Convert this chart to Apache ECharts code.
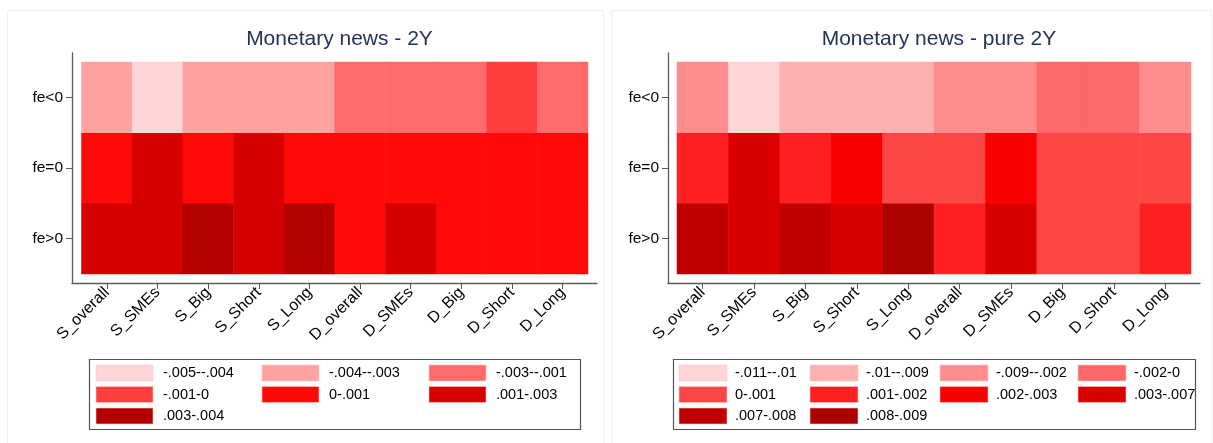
<!DOCTYPE html>
<html>
<head>
<meta charset="utf-8">
<script src="https://cdn.jsdelivr.net/npm/echarts@6/dist/echarts.min.js"></script>
<style>
  html, body { margin: 0; padding: 0; background: #fff; }
  #chart { width: 1213px; height: 443px; }
</style>
</head>
<body>
<div id="chart"></div>
<script>
// Categories (columns) and forecast-error rows
const categories = ['S_overall', 'S_SMEs', 'S_Big', 'S_Short', 'S_Long', 'D_overall', 'D_SMEs', 'D_Big', 'D_Short', 'D_Long'];
const rowLabels = ['fe<0', 'fe=0', 'fe>0'];

// Monetary news - 2Y: one array per row
const news2Y_feNeg  = [-0.0035, -0.0045, -0.0035, -0.0035, -0.0035, -0.002, -0.002, -0.002, -0.0005, -0.002];
const news2Y_feZero = [0.0005, 0.002, 0.0005, 0.002, 0.0005, 0.0005, 0.0005, 0.0005, 0.0005, 0.0005];
const news2Y_fePos  = [0.002, 0.002, 0.0035, 0.002, 0.0035, 0.0005, 0.002, 0.0005, 0.0005, 0.0005];

// Monetary news - pure 2Y
const pure2Y_feNeg  = [-0.005, -0.0105, -0.0095, -0.0095, -0.0095, -0.005, -0.005, -0.001, -0.001, -0.005];
const pure2Y_feZero = [0.0015, 0.005, 0.0015, 0.0025, 0.0005, 0.0005, 0.0025, 0.0005, 0.0005, 0.0005];
const pure2Y_fePos  = [0.0075, 0.005, 0.0075, 0.005, 0.0085, 0.0015, 0.005, 0.0005, 0.0005, 0.0015];

// Colour bins (edges, labels, colours)
const bins2Y_edges  = [-0.005, -0.004, -0.003, -0.001, 0, 0.001, 0.003, 0.004];
const bins2Y_labels = ['-.005--.004', '-.004--.003', '-.003--.001', '-.001-0', '0-.001', '.001-.003', '.003-.004'];
const bins2Y_colors = ['#ffd5d5', '#ffa2a2', '#ff6b6b', '#ff3e3e', '#ff0909', '#d60000', '#b50000'];

const binsPure_edges  = [-0.011, -0.01, -0.009, -0.002, 0, 0.001, 0.002, 0.003, 0.007, 0.008, 0.009];
const binsPure_labels = ['-.011--.01', '-.01--.009', '-.009--.002', '-.002-0', '0-.001', '.001-.002', '.002-.003', '.003-.007', '.007-.008', '.008-.009'];
const binsPure_colors = ['#ffd5d5', '#ffb0b0', '#ff8d8d', '#ff6868', '#ff4646', '#ff2121', '#fc0000', '#db0000', '#c00000', '#ad0000'];

const FONT = '"Liberation Sans", Arial, sans-serif';
const AXIS_COLOR = '#5a5a5a';

function heatData(neg, zero, pos) {
  const out = [];
  const rows = [pos, zero, neg]; // y index 0 = bottom row
  rows.forEach((arr, yi) => arr.forEach((v, xi) => out.push([xi, yi, v])));
  return out;
}

function pieces(edges, colors) {
  return colors.map((c, i) => ({ gte: edges[i], lt: edges[i + 1], color: c }));
}

// Panel geometry
const panels = [
  { frame: { left: 72, top: 53, right: 597, bottom: 283 }, cells: { left: 81.5, top: 62, right: 588, bottom: 274 },
    title: 'Monetary news - 2Y',
    legend: { x: 89, y: 359, w: 491, h: 70, cols: 3, colX: [96, 262, 429], swW: 57, labelGap: 10 } },
  { frame: { left: 668, top: 53, right: 1200, bottom: 283 }, cells: { left: 677, top: 62, right: 1191, bottom: 274 },
    title: 'Monetary news - pure 2Y',
    legend: { x: 673, y: 359, w: 522, h: 70, cols: 4, colX: [679, 810, 940, 1078], swW: 48, labelGap: 8 } }
];

const grids = [], xAxes = [], yAxes = [], titles = [];
panels.forEach((p, i) => {
  // grid for the cells
  grids.push({ left: p.cells.left, top: p.cells.top, width: p.cells.right - p.cells.left, height: p.cells.bottom - p.cells.top });
  // grid carrying the axis lines
  grids.push({ left: p.frame.left, top: p.frame.top, width: p.frame.right - p.frame.left, height: p.frame.bottom - p.frame.top });
  xAxes.push({
    type: 'category', gridIndex: 2 * i, data: categories, offset: p.frame.bottom - p.cells.bottom,
    axisLine: { show: false },
    axisTick: { show: true, alignWithLabel: true, length: 6, lineStyle: { color: AXIS_COLOR } },
    axisLabel: { rotate: 45, fontSize: 16, color: '#000', fontFamily: FONT, margin: 7 },
    splitLine: { show: false }
  });
  xAxes.push({
    type: 'value', gridIndex: 2 * i + 1, min: 0, max: 1,
    axisLine: { show: true, lineStyle: { color: AXIS_COLOR, width: 1.3 } },
    axisTick: { show: false }, axisLabel: { show: false }, splitLine: { show: false }
  });
  yAxes.push({
    type: 'category', gridIndex: 2 * i, data: rowLabels.slice().reverse(), offset: p.cells.left - p.frame.left,
    axisLine: { show: false },
    axisTick: { show: true, alignWithLabel: true, length: 6, lineStyle: { color: AXIS_COLOR } },
    axisLabel: { fontSize: 15.5, color: '#000', fontFamily: FONT, margin: 9 },
    splitLine: { show: false }
  });
  yAxes.push({
    type: 'value', gridIndex: 2 * i + 1, min: 0, max: 1,
    axisLine: { show: true, lineStyle: { color: AXIS_COLOR, width: 1.3 } },
    axisTick: { show: false }, axisLabel: { show: false }, splitLine: { show: false }
  });
  titles.push({
    text: p.title, left: (p.frame.left + p.frame.right) / 2, top: 24, textAlign: 'center',
    textStyle: { fontSize: 21, fontWeight: 'normal', color: '#24335c', fontFamily: FONT }
  });
});

// Legend boxes drawn from the bin arrays
function legendGraphics(lg, labels, colors) {
  const els = [{
    type: 'rect', shape: { x: lg.x + 0.5, y: lg.y + 0.5, width: lg.w, height: lg.h },
    style: { fill: '#fff', stroke: '#555', lineWidth: 1.2 }, z: 1
  }];
  const rowY = [373, 394.5, 416];
  labels.forEach((lab, i) => {
    const r = Math.floor(i / lg.cols), c = i % lg.cols;
    const x = lg.colX[c], y = rowY[r];
    els.push({ type: 'rect', shape: { x: x, y: y - 8, width: lg.swW, height: 16 },
      style: { fill: colors[i], stroke: '#ffc8c8', lineWidth: 0.6 }, z: 2 });
    els.push({ type: 'text', x: x + lg.swW + lg.labelGap, y: y,
      style: { text: lab, fill: '#000', font: '14.5px ' + FONT, textVerticalAlign: 'middle', verticalAlign: 'middle' }, z: 2 });
  });
  return els;
}

const graphics = [
  { type: 'rect', shape: { x: 7.5, y: 10.5, width: 596, height: 440 }, style: { fill: 'none', stroke: '#efefef', lineWidth: 1 }, z: 0 },
  { type: 'rect', shape: { x: 611.5, y: 10.5, width: 600, height: 440 }, style: { fill: 'none', stroke: '#efefef', lineWidth: 1 }, z: 0 }
].concat(
  legendGraphics(panels[0].legend, bins2Y_labels, bins2Y_colors),
  legendGraphics(panels[1].legend, binsPure_labels, binsPure_colors)
);

const chart = echarts.init(document.getElementById('chart'), null, { renderer: 'canvas' });
chart.setOption({
  animation: false,
  backgroundColor: '#fff',
  title: titles,
  grid: grids,
  xAxis: xAxes,
  yAxis: yAxes,
  visualMap: [
    { type: 'piecewise', show: false, seriesIndex: 0, dimension: 2, pieces: pieces(bins2Y_edges, bins2Y_colors) },
    { type: 'piecewise', show: false, seriesIndex: 1, dimension: 2, pieces: pieces(binsPure_edges, binsPure_colors) }
  ],
  series: [
    { name: 'Monetary news - 2Y', type: 'heatmap', xAxisIndex: 0, yAxisIndex: 0,
      data: heatData(news2Y_feNeg, news2Y_feZero, news2Y_fePos),
      itemStyle: { borderWidth: 0 }, emphasis: { disabled: true } },
    { name: 'Monetary news - pure 2Y', type: 'heatmap', xAxisIndex: 2, yAxisIndex: 2,
      data: heatData(pure2Y_feNeg, pure2Y_feZero, pure2Y_fePos),
      itemStyle: { borderWidth: 0 }, emphasis: { disabled: true } }
  ],
  graphic: graphics
});
</script>
</body>
</html>
